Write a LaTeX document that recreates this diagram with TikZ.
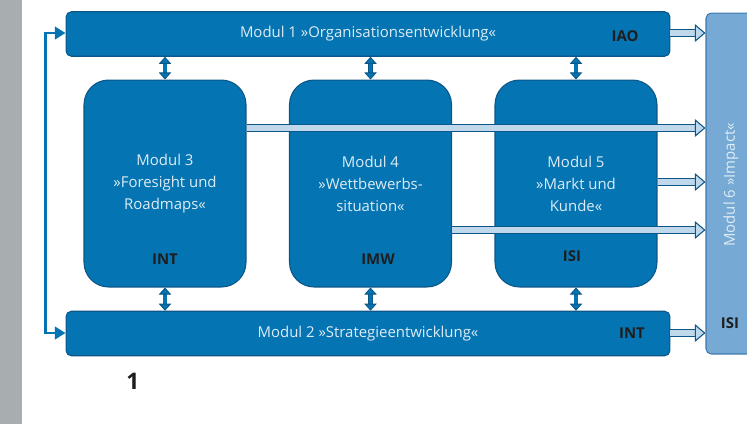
\documentclass[tikz,border=0pt]{standalone}
\usepackage{fontspec}
\setmainfont{Open Sans}
\usetikzlibrary{arrows.meta}

\definecolor{modblue}{RGB}{4,116,178}
\definecolor{modedge}{RGB}{12,86,136}
\definecolor{impblue}{RGB}{118,170,212}
\definecolor{impedge}{RGB}{62,122,172}
\definecolor{txtlight}{RGB}{222,236,246}
\definecolor{pipefill}{RGB}{192,216,236}
\definecolor{sidegray}{RGB}{168,174,176}
\definecolor{lbldark}{RGB}{30,30,30}

\tikzset{
  modbar/.style={draw=modedge, fill=modblue, line width=0.6pt, rounded corners=3pt,
    minimum width=12.08cm, minimum height=0.89cm, text=txtlight, font=\fontsize{8.5}{12.5}\selectfont},
  modbig/.style={draw=modedge, fill=modblue, line width=0.6pt, rounded corners=14pt,
    minimum width=3.24cm, minimum height=4.14cm, text=txtlight, align=center,
    font=\fontsize{8.5}{12.5}\selectfont},
  impbox/.style={draw=impedge, fill=impblue, line width=0.6pt, rounded corners=3pt,
    minimum width=1.08cm, minimum height=6.82cm},
  inst/.style={text=lbldark, font=\fontsize{8.5}{10}\selectfont\bfseries},
  pipe/.style={draw=modedge, double=pipefill, double distance=3.6pt, line width=0.6pt,
    -{Triangle[length=6pt, width=10pt, fill=pipefill, line width=0.6pt]}},
  updown/.style={draw=modedge, double=modblue, double distance=1.8pt, line width=0.5pt,
    {Triangle[length=4pt, width=7pt, fill=modblue]}-{Triangle[length=4pt, width=7pt, fill=modblue]}},
}

\begin{document}
\begin{tikzpicture}[x=0.02cm, y=-0.02cm]
  \useasboundingbox (0,0) rectangle (747,424);
  \clip (0,0) rectangle (747,424);
  % background
  \fill[white] (0,0) rectangle (747,424);
  \fill[sidegray] (0,0) rectangle (22,424);

  % modules
  \node[impbox] (mod6) at (733,183.5) {};
  \node[text=txtlight, rotate=90, font=\fontsize{8.5}{10}\selectfont] (imptxt) at (731,185) {Modul 6 »Impact«};
  \node[inst] (isi6) at (730,323) {ISI};

  \node[modbar] (mod1) at (368,34) {Modul 1 »Organisationsentwicklung«};
  \node[modbar] (mod2) at (368,333.5) {Modul 2 »Strategieentwicklung«};
  \node[modbig] (mod3) at (165,183.5) {Modul 3\\»Foresight und\\Roadmaps«};
  \node[modbig] (mod4) at (370.5,183.5) {Modul 4\\»Wettbewerbs-\\situation«};
  \node[modbig] (mod5) at (576,183.5) {Modul 5\\»Markt und\\Kunde«};

  % institutes
  \node[inst] (iao1) at (625,36) {IAO};
  \node[inst] (int2) at (632,333) {INT};
  \node[inst] (int3) at (165,259) {INT};
  \node[inst] (imw4) at (378,259) {IMW};
  \node[inst] (isi5) at (572,256) {ISI};

  % arrows between modules
  \foreach \m in {mod3,mod4,mod5}{
    \draw[updown] (mod1.south -| \m.north) -- (\m.north);
    \draw[updown] (\m.south) -- (mod2.north -| \m.south);
  }

  % arrows into impact
  \draw[pipe] (mod1.east |- 0,33) -- (mod6.west |- 0,33);
  \draw[pipe] (mod3.east |- 0,128) -- (mod6.west |- 0,128);
  \draw[pipe] (mod5.east |- 0,182) -- (mod6.west |- 0,182);
  \draw[pipe] (mod4.east |- 0,230) -- (mod6.west |- 0,230);
  \draw[pipe] (mod2.east |- 0,333) -- (mod6.west |- 0,333);

  % feedback loop
  \draw[modblue, line width=1.6pt, {Triangle[length=6pt, width=7pt]}-{Triangle[length=6pt, width=7pt]}]
    (mod2.west |- 0,333) -- ++(-20,0) |- (mod1.west |- 0,33);

  \node[text=lbldark, font=\fontsize{13}{14}\selectfont\bfseries] (fignum) at (133,381) {1};
\end{tikzpicture}
\end{document}
